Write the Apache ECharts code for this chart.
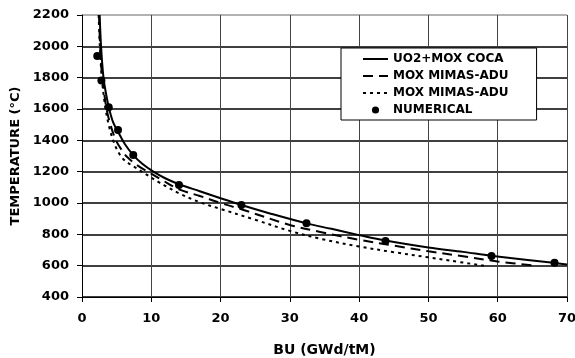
<!DOCTYPE html>
<html>
<head>
<meta charset="utf-8">
<script src="https://cdn.jsdelivr.net/npm/echarts@6/dist/echarts.min.js"></script>
<style>
  html, body { margin: 0; padding: 0; background: #fff; }
  #chart { width: 575px; height: 358px; }
</style>
</head>
<body>
<div id="chart"></div>
<script>
// Burnup (GWd/tM) vs temperature (°C) curves
const cocaBU   = [2.55, 2.75, 3.1, 3.5, 3.9, 4.5, 5.2, 6.2, 7.4, 8.7, 10.3, 12, 14, 17, 20, 23, 27, 32.4, 36, 40, 43.8, 50, 55, 59, 64, 68, 70];
const cocaT    = [2200, 2000, 1800, 1690, 1605, 1515, 1455, 1375, 1306, 1250, 1200, 1158, 1120, 1075, 1030, 987, 935, 870, 835, 795, 760, 716, 688, 664, 638, 618, 608];

const adu1BU   = [2.45, 2.62, 2.9, 3.2, 3.55, 4.1, 4.9, 5.7, 6.6, 8, 9.5, 11.5, 14, 17, 20, 23, 30, 34.4, 40, 45, 50, 55, 60, 65.5];
const adu1T    = [2200, 2000, 1800, 1700, 1600, 1500, 1400, 1340, 1290, 1240, 1200, 1148, 1087, 1045, 1000, 960, 860, 815, 765, 728, 692, 660, 627, 600];

const adu2BU   = [2.4, 2.58, 2.85, 3.1, 3.4, 3.9, 4.5, 5.3, 6.2, 7.5, 9.0, 11, 12, 14, 17, 20, 25, 30, 34.4, 40, 45, 50, 53, 58];
const adu2T    = [2200, 2000, 1800, 1700, 1600, 1490, 1400, 1320, 1270, 1232, 1190, 1135, 1110, 1062, 1005, 962, 893, 822, 772, 722, 686, 653, 633, 600];

const numBU    = [2.2, 2.8, 3.86, 5.2, 7.4, 14.0, 23.0, 32.4, 43.8, 59.1, 68.2];
const numT     = [1938, 1782, 1611, 1466, 1306, 1115, 987, 870, 757, 662, 619];

const xTicks = { min: 0, max: 70, step: 10 };
const yTicks = { min: 400, max: 2200, step: 200 };

const names = ['UO2+MOX COCA', 'MOX MIMAS-ADU', 'MOX MIMAS-ADU ', 'NUMERICAL'];

const zip = (xs, ys) => xs.map((x, i) => [x, ys[i]]);
const FONT = 'DejaVu Sans';
const plain = v => String(v);

const chart = echarts.init(document.getElementById('chart'), null, { renderer: 'canvas' });

const curve = (name, xs, ys, type) => ({
  name,
  type: 'line',
  data: zip(xs, ys),
  smooth: 0.35,
  symbol: 'none',
  showSymbol: false,
  lineStyle: { color: '#000', width: 2, type },
  itemStyle: { color: '#000' },
  z: 3
});

chart.setOption({
  animation: false,
  backgroundColor: '#fff',
  grid: { left: 82, right: 8, top: 15, bottom: 61, containLabel: false, outerBoundsMode: 'none' },
  xAxis: {
    type: 'value',
    min: xTicks.min, max: xTicks.max, interval: xTicks.step,
    name: 'BU (GWd/tM)',
    nameLocation: 'middle',
    nameGap: 46,
    nameTextStyle: { fontFamily: FONT, fontWeight: 'bold', fontSize: 14, color: '#000' },
    axisLine: { onZero: false, lineStyle: { color: '#000', width: 1 } },
    axisTick: { show: true, length: 5, lineStyle: { color: '#000' } },
    axisLabel: { margin: 15, fontFamily: FONT, fontWeight: 'bold', fontSize: 13, color: '#000', formatter: plain },
    splitLine: { show: true, lineStyle: { color: '#444', width: 1 } }
  },
  yAxis: {
    type: 'value',
    min: yTicks.min, max: yTicks.max, interval: yTicks.step,
    name: 'TEMPERATURE (°C)',
    nameLocation: 'middle',
    nameGap: 58,
    nameRotate: 90,
    nameTextStyle: { fontFamily: FONT, fontWeight: 'bold', fontSize: 13, color: '#000' },
    axisLine: { show: true, lineStyle: { color: '#000', width: 1 } },
    axisTick: { show: true, length: 5, lineStyle: { color: '#000' } },
    axisLabel: { margin: 13, fontFamily: FONT, fontWeight: 'bold', fontSize: 13, color: '#000', formatter: plain },
    splitLine: {
      show: true,
      lineStyle: {
        color: ['#000', '#000', '#000', '#000', '#000', '#000', '#000', '#000', '#000', '#999'],
        width: 1.5
      }
    }
  },
  legend: {
    orient: 'vertical',
    left: 341,
    top: 48,
    padding: [4, 24, 3, 21],
    itemGap: 3,
    itemWidth: 25,
    itemHeight: 9,
    backgroundColor: '#fff',
    borderColor: '#000',
    borderWidth: 1,
    borderRadius: 0,
    itemStyle: { opacity: 0 },
    textStyle: { fontFamily: FONT, fontWeight: 'bold', fontSize: 12, color: '#000', lineHeight: 14 },
    data: [
      { name: names[0] },
      { name: names[1] },
      { name: names[2] },
      { name: names[3], itemStyle: { opacity: 1 } }
    ]
  },
  series: [
    curve(names[0], cocaBU, cocaT, 'solid'),
    curve(names[1], adu1BU, adu1T, [10, 6]),
    curve(names[2], adu2BU, adu2T, [3, 4]),
    {
      name: names[3],
      type: 'line',
      data: zip(numBU, numT),
      symbol: 'circle',
      symbolSize: 8,
      showSymbol: true,
      lineStyle: { opacity: 0, width: 0 },
      itemStyle: { color: '#000' },
      z: 4
    }
  ]
});
</script>
</body>
</html>
